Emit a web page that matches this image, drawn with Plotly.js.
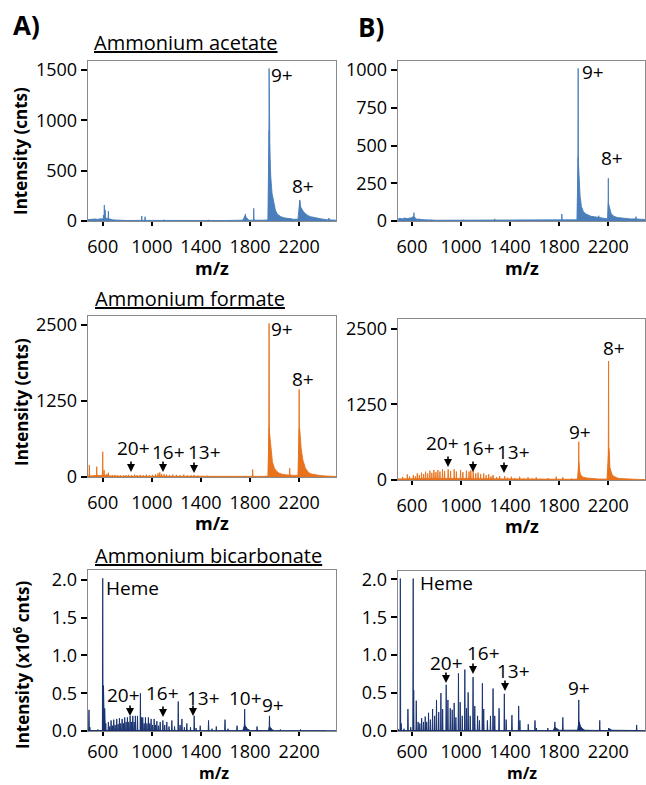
<!DOCTYPE html>
<html><head><meta charset="utf-8">
<script src="https://cdn.plot.ly/plotly-3.0.1.min.js"></script>
<style>html,body{margin:0;padding:0;background:#fff}#chart{width:646px;height:785px}</style>
</head><body><div id="chart"></div>
<script>
// ---------- data (m/z, intensity) ----------
const xTicks = [600, 1000, 1400, 1800, 2200];
const yTicksA1 = [0, 500, 1000, 1500];
const yTicksB1 = [0, 250, 500, 750, 1000];
const yTicksRow2 = [0, 1250, 2500];
const yTicksRow3 = [0, 0.5, 1.0, 1.5, 2.0];

// Panel A1: ammonium acetate (cnts)
const a1Profile = [[480,14],[500,18],[520,15],[540,20],[560,16],[580,22],[600,20],[620,30],[640,25],[660,15],[680,12],[700,10],[750,6],[800,5],[900,6],[1000,5],[1200,4],[1400,5],[1600,5],[1740,8],[1750,40],[1760,55],[1770,35],[1780,15],[1790,8],[1900,8],[1945,10],[1955,900],[1960,650],[1968,450],[1979,275],[1993,176],[2006,109],[2020,72],[2034,55],[2047,45],[2075,32],[2102,26],[2156,17],[2190,18],[2205,200],[2212,140],[2224,110],[2236,90],[2251,74],[2270,55],[2292,43],[2320,34],[2347,27],[2375,22],[2401,17],[2430,12],[2500,8]];
const a1Sticks = [[606,60],[613,159],[620,110],[646,99],[918,50],[945,43],[1100,12],[1310,10],[1460,12],[1762,70],[1830,126],[1955,1515],[1960,943],[2129,27],[2205,209],[2442,30]];

// Panel B1
const b1Profile = [[486,12],[500,18],[520,14],[540,20],[560,16],[580,20],[600,22],[620,25],[640,12],[660,10],[700,8],[800,5],[1000,5],[1200,5],[1400,5],[1600,6],[1800,7],[1945,8],[1955,420],[1963,300],[1971,161],[1982,95],[1998,62],[2015,48],[2033,40],[2060,31],[2088,28],[2120,24],[2160,17],[2195,14],[2201,120],[2210,84],[2223,51],[2236,38],[2250,30],[2275,23],[2305,19],[2340,16],[2380,14],[2420,14],[2460,11],[2500,10]];
const b1Sticks = [[608,30],[616,55],[659,15],[760,8],[1020,8],[1275,14],[1480,8],[1822,46],[1955,1011],[2123,35],[2201,283],[2427,29]];

// Panel A2: ammonium formate (cnts)
const a2Profile = [[480,15],[500,20],[540,22],[580,25],[620,30],[660,18],[700,12],[800,12],[900,12],[1000,14],[1100,14],[1200,12],[1300,10],[1400,8],[1600,6],[1800,6],[1945,10],[1955,800],[1962,650],[1971,390],[1982,252],[1998,143],[2010,110],[2020,88],[2040,60],[2061,44],[2090,35],[2120,28],[2160,26],[2190,30],[2200,800],[2205,773],[2216,472],[2230,280],[2251,143],[2278,71],[2300,48],[2333,33],[2370,24],[2420,16],[2460,11],[2500,8]];
const a2Sticks = [[491,197],[536,30],[551,170],[600,416],[611,115],[633,50],[646,71],[680,30],[700,35],[722,30],[745,28],[770,30],[790,28],[810,35],[835,30],[860,40],[880,30],[905,35],[930,30],[955,40],[980,30],[1005,35],[1030,45],[1050,60],[1065,77],[1080,50],[1100,45],[1120,40],[1145,35],[1170,40],[1200,35],[1230,30],[1260,40],[1290,30],[1320,28],[1345,35],[1375,25],[1410,20],[1450,22],[1500,15],[1560,14],[1610,15],[1700,12],[1760,18],[1821,126],[1930,20],[1955,2528],[2123,143],[2200,1442]];

// Panel B2
const b2Profile = [[486,18],[520,20],[560,20],[600,22],[650,24],[700,25],[750,26],[800,26],[850,26],[900,25],[950,24],[1000,22],[1050,20],[1100,19],[1150,17],[1200,15],[1300,13],[1400,12],[1500,11],[1600,10],[1700,10],[1800,10],[1900,11],[1950,16],[1960,300],[1963,248],[1967,150],[1975,90],[1986,60],[1998,45],[2020,34],[2050,25],[2080,20],[2120,16],[2190,14],[2200,300],[2205,525],[2209,470],[2214,207],[2220,140],[2228,110],[2238,70],[2250,55],[2274,32],[2300,23],[2340,16],[2400,12],[2450,9],[2500,8]];
const b2Sticks = [[524,50],[562,94],[580,60],[611,83],[628,60],[643,110],[660,80],[678,122],[695,100],[711,138],[728,110],[746,155],[762,120],[779,166],[795,130],[811,166],[828,140],[849,177],[866,150],[895,177],[915,150],[944,177],[962,140],[996,166],[1015,130],[1044,155],[1065,140],[1080,160],[1099,150],[1120,110],[1139,122],[1160,100],[1185,110],[1205,80],[1226,94],[1245,60],[1261,83],[1290,50],[1315,66],[1356,66],[1380,40],[1410,55],[1440,30],[1478,55],[1510,25],[1546,44],[1580,25],[1613,44],[1650,20],[1708,33],[1776,55],[1830,44],[1900,25],[1960,634],[2203,1970]];

// Panel A3: ammonium bicarbonate (x10^6 cnts)
const a3Profile = [[480,0.006],[700,0.008],[1000,0.006],[1500,0.004],[1740,0.005],[1756,0.08],[1775,0.03],[1800,0.006],[1950,0.005],[1958,0.06],[1975,0.02],[2000,0.004],[2500,0.004]];
const a3Sticks = [[488,0.28],[495,0.05],[560,0.02],[600,2.02],[606,0.6],[611,0.43],[616,0.3],[625,0.1],[646,0.12],[657,0.06],[668,0.14],[679,0.07],[690,0.15],[701,0.08],[714,0.16],[725,0.09],[736,0.17],[747,0.1],[758,0.16],[769,0.1],[779,0.18],[790,0.12],[801,0.18],[812,0.12],[823,0.2],[834,0.12],[845,0.2],[856,0.12],[866,0.2],[883,0.2],[907,0.5],[916,0.18],[926,0.18],[937,0.1],[948,0.18],[960,0.1],[972,0.18],[983,0.1],[994,0.16],[1006,0.08],[1019,0.16],[1030,0.08],[1041,0.13],[1055,0.07],[1068,0.12],[1090,0.14],[1105,0.08],[1122,0.12],[1140,0.06],[1163,0.14],[1185,0.06],[1215,0.39],[1230,0.08],[1245,0.16],[1265,0.05],[1285,0.1],[1315,0.05],[1345,0.2],[1360,0.04],[1394,0.07],[1462,0.14],[1490,0.03],[1525,0.06],[1596,0.15],[1620,0.03],[1694,0.07],[1756,0.29],[1770,0.05],[1857,0.06],[1958,0.2],[1970,0.04],[2047,0.02],[2211,0.02],[2400,0.01]];

// Panel B3
const b3Profile = [[486,0.005],[1750,0.005],[1765,0.05],[1780,0.03],[1800,0.01],[1950,0.01],[1962,0.12],[1975,0.06],[1990,0.03],[2010,0.01],[2200,0.005],[2210,0.03],[2230,0.01],[2500,0.005]];
const b3Sticks = [[490,0.02],[505,2.01],[512,0.1],[535,0.03],[567,0.29],[590,0.05],[610,2.01],[614,0.54],[635,0.40],[650,0.12],[664,0.1],[679,0.17],[694,0.12],[708,0.19],[720,0.12],[735,0.24],[750,0.15],[768,0.29],[785,0.2],[800,0.41],[818,0.25],[836,0.50],[850,0.29],[879,0.61],[893,0.41],[912,0.3],[928,0.28],[944,0.37],[958,0.18],[979,0.76],[993,0.38],[1010,0.2],[1031,0.81],[1045,0.3],[1058,0.51],[1075,0.2],[1098,0.71],[1112,0.33],[1135,0.2],[1150,0.14],[1174,0.63],[1185,0.29],[1215,0.14],[1240,0.2],[1261,0.56],[1275,0.2],[1310,0.3],[1353,0.49],[1368,0.15],[1415,0.21],[1470,0.33],[1480,0.14],[1548,0.09],[1603,0.14],[1615,0.04],[1708,0.04],[1765,0.12],[1830,0.18],[1960,0.41],[1966,0.12],[2131,0.14],[2204,0.04],[2432,0.08]];

// ---------- drawing ----------
const W = 646, H = 785;
const FONT = 'Open Sans, Noto Sans, sans-serif';
const BLUE = '#4a7ebb', ORANGE = '#e8731c', NAVY = '#16306e';
const PX = x => x / W, PY = y => 1 - y / H;

function profileXY(pairs) {
  const s = pairs.slice().sort((a, b) => a[0] - b[0]);
  return { x: s.map(p => p[0]), y: s.map(p => p[1]) };
}
function sticksXY(pairs, hw) {
  const s = pairs.slice().sort((a, b) => a[0] - b[0]);
  const x = [], y = [];
  s.forEach(p => { x.push(p[0] - hw, p[0], p[0] + hw); y.push(0, p[1], 0); });
  return { x, y };
}
function traces(profile, sticks, color, ax) {
  const p = profileXY(profile), k = sticksXY(sticks, 3);
  const base = { type: 'scatter', mode: 'lines', fill: 'tozeroy', fillcolor: color,
    line: { color: color, width: 0.9 }, xaxis: 'x' + ax, yaxis: 'y' + ax, hoverinfo: 'skip', showlegend: false };
  return [Object.assign({}, base, p), Object.assign({}, base, k)];
}

const data = [].concat(
  traces(a1Profile, a1Sticks, BLUE, ''),
  traces(b1Profile, b1Sticks, BLUE, '2'),
  traces(a2Profile, a2Sticks, ORANGE, '3'),
  traces(b2Profile, b2Sticks, ORANGE, '4'),
  traces(a3Profile, a3Sticks, NAVY, '5'),
  traces(b3Profile, b3Sticks, NAVY, '6')
);

const tickFont = { family: FONT, size: 18, color: '#000' };
function xAx(dom, range, anchor, standoff) {
  return { domain: dom, range: range, anchor: anchor, tickvals: xTicks, ticks: 'outside', ticklen: 4, tickwidth: 2,
    tickcolor: '#000', showline: true, linecolor: '#8a8a8a', linewidth: 1.3, mirror: true, showgrid: false,
    zeroline: false, tickfont: tickFont, ticklabelstandoff: standoff };
}
function yAx(dom, range, anchor, tv, fmt) {
  const o = { domain: dom, range: range, anchor: anchor, tickvals: tv, ticks: 'outside', ticklen: 6, tickwidth: 2,
    tickcolor: '#000', showline: true, linecolor: '#8a8a8a', linewidth: 1.3, mirror: true, showgrid: false,
    zeroline: false, tickfont: tickFont, ticklabelstandoff: 0 };
  if (fmt) o.tickformat = fmt;
  return o;
}
const xA = [88 / W, 336 / W], xB = [398 / W, 645 / W];
const layout = {
  width: W, height: H, margin: { l: 0, r: 0, t: 0, b: 0 }, paper_bgcolor: '#fff', plot_bgcolor: '#fff',
  font: { family: FONT, color: '#000' },
  xaxis: xAx(xA, [480, 2500], 'y', 5),
  yaxis: yAx([PY(221), PY(61)], [0, 1590], 'x', yTicksA1),
  xaxis2: xAx(xB, [486, 2500], 'y2', 5),
  yaxis2: yAx([PY(221), PY(61)], [0, 1060], 'x2', yTicksB1),
  xaxis3: xAx(xA, [480, 2500], 'y3', 5),
  yaxis3: yAx([PY(477), PY(316)], [0, 2650], 'x3', yTicksRow2),
  xaxis4: xAx(xB, [486, 2500], 'y4', 5),
  yaxis4: yAx([PY(480), PY(319)], [0, 2665], 'x4', yTicksRow2),
  xaxis5: xAx(xA, [480, 2500], 'y5', 0),
  yaxis5: yAx([PY(731), PY(570)], [0, 2.13], 'x5', yTicksRow3, '.1f'),
  xaxis6: xAx(xB, [486, 2500], 'y6', 0),
  yaxis6: yAx([PY(731), PY(571)], [0, 2.11], 'x6', yTicksRow3, '.1f'),
  annotations: [], showlegend: false
};

const ann = layout.annotations;
function txt(t, x, y, size, opts) {
  ann.push(Object.assign({ text: t, x: PX(x), y: PY(y), xref: 'paper', yref: 'paper', showarrow: false,
    xanchor: 'center', yanchor: 'middle', font: { family: FONT, size: size, color: '#000' } }, opts || {}));
}
function arrow(x, y, len) {
  ann.push({ text: '', x: PX(x), y: PY(y), xref: 'paper', yref: 'paper', showarrow: true, ax: 0, ay: -len,
    arrowhead: 2, arrowsize: 1, arrowwidth: 1.6, arrowcolor: '#000', standoff: 0 });
}
// panel letters and titles
txt('<b>A)</b>', 27, 25, 26);
txt('<b>B)</b>', 371, 27, 26);
txt('<u>Ammonium acetate</u>', 92, 43, 20, { xanchor: 'left' });
txt('<u>Ammonium formate</u>', 93, 298, 20, { xanchor: 'left' });
txt('<u>Ammonium bicarbonate</u>', 93, 555, 20, { xanchor: 'left' });
// axis titles
txt('<b>Intensity (cnts)</b>', 21, 151, 17, { textangle: -90 });
txt('<b>Intensity (cnts)</b>', 21, 402, 17, { textangle: -90 });
txt('<b>Intensity (x10<sup>6</sup> cnts)</b>', 21, 665, 17, { textangle: -90 });
txt('<b>m/z</b>', 212, 268, 18); txt('<b>m/z</b>', 522, 268, 18);
txt('<b>m/z</b>', 212, 523, 18); txt('<b>m/z</b>', 522, 526, 18);
txt('<b>m/z</b>', 214, 773, 16, { yanchor: 'bottom', y: PY(785), borderpad: 0 });
txt('<b>m/z</b>', 522, 773, 16, { yanchor: 'bottom', y: PY(785), borderpad: 0 });
// peak labels
const LS = 19;
txt('9+', 282, 75, LS); txt('8+', 303, 186, LS);
txt('9+', 593, 72, LS); txt('8+', 612, 158, LS);
txt('9+', 282, 329, LS); txt('8+', 303, 379, LS);
txt('9+', 580, 432, LS); txt('8+', 614, 348, LS);
txt('Heme', 104, 588, LS, { xanchor: 'left' }); txt('10+', 245, 698, LS); txt('9+', 273, 705, LS);
txt('Heme', 418, 583, LS, { xanchor: 'left' }); txt('9+', 579, 688, LS);
// charge-state arrows
[[133, 448, 131, 472, '20+'], [168, 452, 163, 472, '16+'], [204, 452, 194, 473, '13+'],
 [442, 443, 448, 467, '20+'], [478, 448, 473, 472, '16+'], [513, 452, 504, 473, '13+'],
 [123, 695, 130, 716, '20+'], [162, 693, 163, 717, '16+'], [203, 698, 193, 716, '13+'],
 [446, 663, 446, 683, '20+'], [483, 653, 473, 674, '16+'], [513, 671, 505, 691, '13+']
].forEach(a => { txt(a[4], a[0], a[1], LS); arrow(a[2], a[3], 12); });

Plotly.newPlot('chart', data, layout, { staticPlot: true, displayModeBar: false });
</script></body></html>
